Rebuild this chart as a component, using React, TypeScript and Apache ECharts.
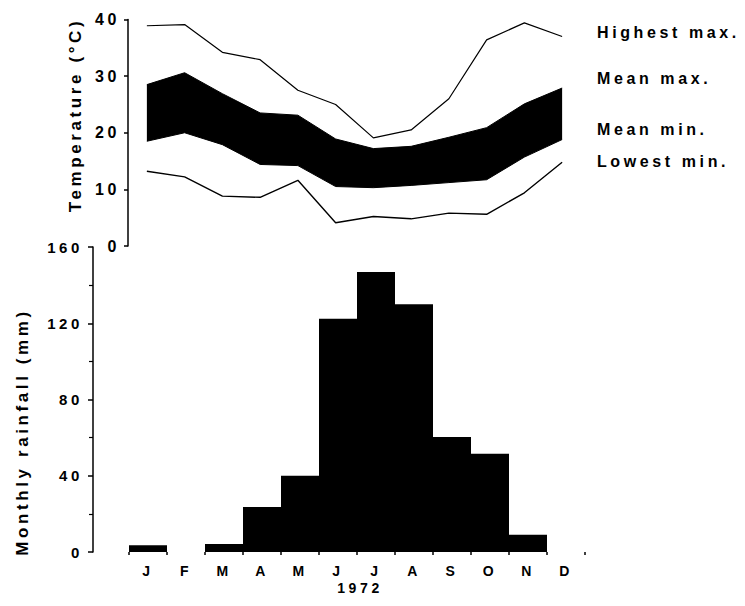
import React, { useEffect, useRef } from "react";
import * as echarts from "echarts";

const monthNames = ["Jan", "Feb", "Mar", "Apr", "May", "Jun", "Jul", "Aug", "Sep", "Oct", "Nov", "Dec"];
const monthInitials = ["J", "F", "M", "A", "M", "J", "J", "A", "S", "O", "N", "D"];

const highestMax = [38.9, 39.1, 34.2, 32.9, 27.5, 25.0, 19.1, 20.5, 26.0, 36.4, 39.4, 37.0];
const meanMax = [28.5, 30.6, 26.9, 23.5, 23.1, 18.9, 17.2, 17.6, 19.2, 20.9, 25.1, 27.9];
const meanMin = [18.5, 20.0, 17.9, 14.4, 14.2, 10.5, 10.3, 10.7, 11.2, 11.7, 15.7, 18.8];
const lowestMin = [13.2, 12.2, 8.8, 8.6, 11.6, 4.1, 5.2, 4.8, 5.8, 5.6, 9.4, 14.8];

const rainfall = [3.5, 0, 4.2, 23.6, 40, 122.4, 146.9, 130, 60.3, 51.6, 9.1, 0];

const tempTicks = { min: 0, max: 40, interval: 10 };
const rainTicks = { min: 0, max: 160, interval: 40 };

const legendLabels = [
  { text: "Highest max.", y: 33 },
  { text: "Mean max.", y: 79 },
  { text: "Mean min.", y: 130 },
  { text: "Lowest min.", y: 162 },
];

const FONT = "'Liberation Sans', Arial, sans-serif";

export default function App() {
  const ref = useRef<HTMLDivElement>(null);
  useEffect(() => {
    if (!ref.current) return;
    const chart = echarts.init(ref.current, undefined, { renderer: "svg" });
    const band = meanMax.map((v, i) => +(v - meanMin[i]).toFixed(2));
    const black = "#000";
    chart.setOption({
      animation: false,
      backgroundColor: "#fff",
      grid: [
        { left: 128, top: 19.5, width: 453, height: 226.5 },
        { left: 129, top: 247, width: 456, height: 305 },
      ],
      xAxis: [
        {
          type: "category",
          gridIndex: 0,
          data: monthNames,
          boundaryGap: true,
          show: false,
        },
        {
          type: "category",
          gridIndex: 1,
          data: monthNames,
          boundaryGap: true,
          axisLine: { show: false },
          axisTick: { show: true, length: 3, lineStyle: { color: black, width: 1.5 } },
          axisLabel: {
            formatter: (_v: string, i: number) => monthInitials[i],
            color: black,
            fontSize: 14,
            fontWeight: "bold",
            fontFamily: FONT,
            margin: 12,
          },
          splitLine: { show: false },
        },
      ],
      yAxis: [
        {
          type: "value",
          gridIndex: 0,
          ...tempTicks,
          axisLine: { show: true, lineStyle: { color: black, width: 1.5 } },
          axisTick: { show: true, length: 4, lineStyle: { color: black, width: 1.5 } },
          axisLabel: { color: black, fontSize: 16, fontWeight: "bold", fontFamily: FONT, margin: 8 },
          splitLine: { show: false },
        },
        {
          type: "value",
          gridIndex: 1,
          ...rainTicks,
          offset: 36,
          axisLine: { show: true, lineStyle: { color: black, width: 1.5 } },
          axisTick: { show: true, length: 5, lineStyle: { color: black, width: 1.5 } },
          minorTick: { show: true, splitNumber: 2, length: 4, lineStyle: { color: black, width: 1.2 } },
          axisLabel: { color: black, fontSize: 15, fontWeight: "bold", fontFamily: FONT, margin: 10 },
          splitLine: { show: false },
        },
      ],
      series: [
        {
          name: "Mean min.",
          type: "line",
          xAxisIndex: 0,
          yAxisIndex: 0,
          data: meanMin,
          stack: "band",
          symbol: "none",
          lineStyle: { color: black, width: 1 },
        },
        {
          name: "Mean max.",
          type: "line",
          xAxisIndex: 0,
          yAxisIndex: 0,
          data: band,
          stack: "band",
          symbol: "none",
          lineStyle: { color: black, width: 1 },
          areaStyle: { color: black, opacity: 1 },
        },
        {
          name: "Highest max.",
          type: "line",
          xAxisIndex: 0,
          yAxisIndex: 0,
          data: highestMax,
          symbol: "none",
          lineStyle: { color: black, width: 1.2 },
        },
        {
          name: "Lowest min.",
          type: "line",
          xAxisIndex: 0,
          yAxisIndex: 0,
          data: lowestMin,
          symbol: "none",
          lineStyle: { color: black, width: 1.4 },
        },
        {
          name: "Monthly rainfall",
          type: "bar",
          xAxisIndex: 1,
          yAxisIndex: 1,
          data: rainfall,
          barCategoryGap: "0%",
          itemStyle: { color: black },
        },
      ],
      graphic: [
        ...legendLabels.map((l) => ({
          type: "text",
          left: 597,
          top: l.y - 9,
          style: { text: l.text, fill: black, font: `bold 16px ${FONT}` },
        })),
        {
          type: "text",
          x: 75,
          y: 115,
          rotation: Math.PI / 2,
          style: { text: "Temperature (°C)", fill: black, font: `bold 17px ${FONT}`, align: "center", verticalAlign: "middle" },
        },
        {
          type: "text",
          x: 22,
          y: 432,
          rotation: Math.PI / 2,
          style: { text: "Monthly rainfall (mm)", fill: black, font: `bold 17px ${FONT}`, align: "center", verticalAlign: "middle" },
        },
        {
          type: "text",
          x: 360,
          y: 588,
          style: { text: "1972", fill: black, font: `bold 14px ${FONT}`, align: "center", verticalAlign: "middle" },
        },
      ],
    });
    return () => chart.dispose();
  }, []);
  return (
    <div
      ref={ref}
      style={{ position: "fixed", left: 0, top: 0, width: 745, height: 606, letterSpacing: "3.6px", background: "#fff" }}
    />
  );
}
